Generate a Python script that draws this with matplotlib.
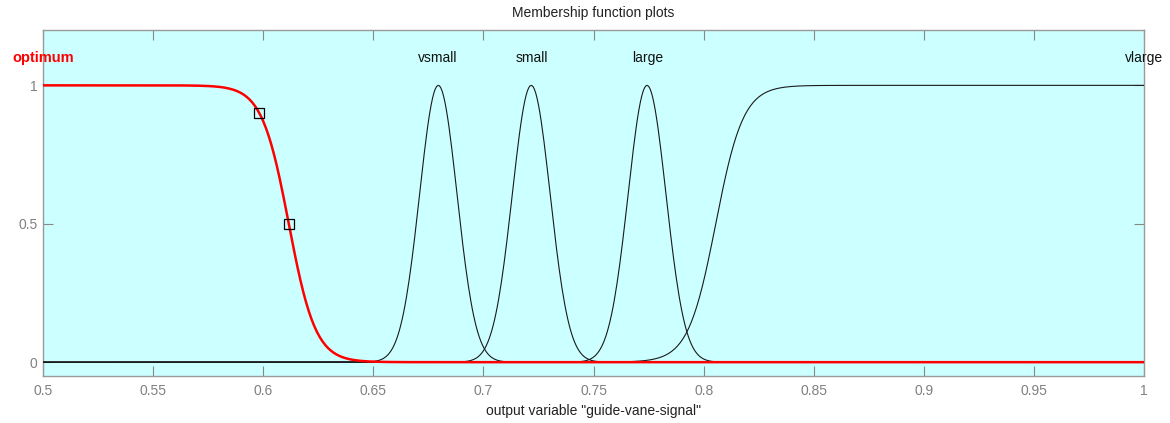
import numpy as np
import matplotlib
matplotlib.use("Agg")
from matplotlib import pyplot as plt

plt.rcParams['font.family'] = ['Liberation Sans', 'DejaVu Sans']

# membership functions of output "guide-vane-signal" (params)
mf_names = ["optimum", "vsmall", "small", "large", "vlarge"]
mf_types = ["sigmf", "gaussmf", "gaussmf", "gaussmf", "sigmf"]
mf_params = [[-164, 0.6116], [0.0085, 0.6795], [0.0086, 0.7217], [0.0086, 0.7743], [160, 0.8055]]
selected = "optimum"

# control point markers of the selected mf
marker_x = [0.598, 0.6116]
marker_y = [0.9, 0.5]

x_range = [0.5, 1.0]
x_ticks = [0.5, 0.55, 0.6, 0.65, 0.7, 0.75, 0.8, 0.85, 0.9, 0.95, 1.0]
x_tick_labels = ["0.5", "0.55", "0.6", "0.65", "0.7", "0.75", "0.8", "0.85", "0.9", "0.95", "1"]
y_ticks = [0, 0.5, 1]
y_tick_labels = ["0", "0.5", "1"]


def eval_mf(x, kind, p):
    if kind == "sigmf":
        return 1.0 / (1.0 + np.exp(-p[0] * (x - p[1])))
    return np.exp(-(x - p[1]) ** 2 / (2 * p[0] ** 2))


x = np.linspace(x_range[0], x_range[1], 801)

fig = plt.figure(figsize=(11.7, 4.23), dpi=100)
ax = fig.add_axes([0.0368, 0.1111, 0.9410, 0.8180])
ax.set_facecolor("#ccffff")

for name, kind, p in zip(mf_names, mf_types, mf_params):
    y = eval_mf(x, kind, p)
    if name == selected:
        ax.plot(x, y, color="red", lw=1.8, zorder=4)
        col, weight, fs = "red", "bold", 10.5
    else:
        ax.plot(x, y, color="#1a1a1a", lw=0.8, zorder=3)
        col, weight, fs = "#111111", "normal", 10
    # label sits above the point where the mf is highest
    xm = x[np.argmax(y)]
    ax.text(xm, 1.1, name, color=col, fontweight=weight, fontsize=fs,
            ha="center", va="center", clip_on=False, zorder=6)

ax.plot(marker_x, marker_y, "s", ms=7, mfc="none", mec="black", mew=0.9, zorder=5)

ax.set_xlim(x_range)
ax.set_ylim(-0.05, 1.2)
ax.set_xticks(x_ticks)
ax.set_xticklabels(x_tick_labels)
ax.set_yticks(y_ticks)
ax.set_yticklabels(y_tick_labels)
ax.tick_params(direction="in", length=7, width=0.8, color="#888888",
               labelcolor="#808080", labelsize=10, top=True, right=True)
ax.tick_params(axis="x", pad=6)
ax.tick_params(axis="y", pad=4)
for s in ax.spines.values():
    s.set_color("#999999")
    s.set_linewidth(1.0)

ax.set_title("Membership function plots", fontsize=10, color="#222222", pad=9)
ax.set_xlabel('output variable "guide-vane-signal"', fontsize=10, color="#222222", labelpad=4)

fig.savefig("out.png", dpi=100, facecolor="white")
